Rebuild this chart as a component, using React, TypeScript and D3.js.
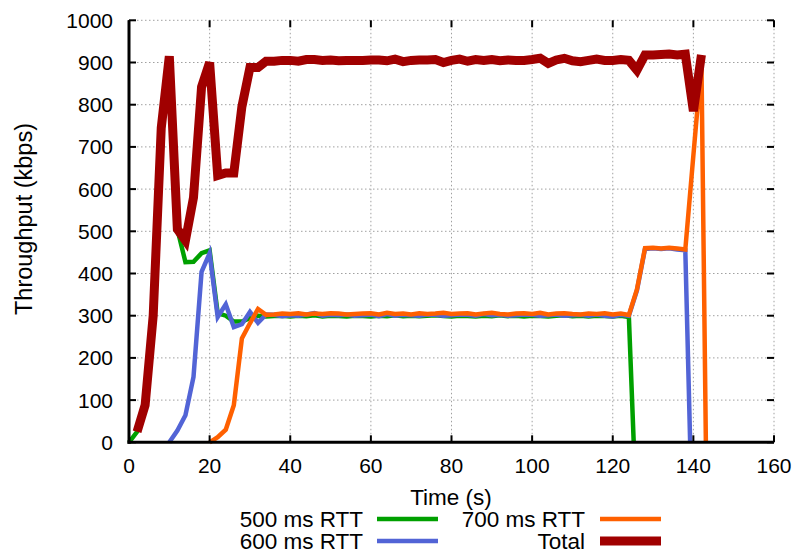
import React from "react";
import * as d3 from "d3";

// Time (s) / throughput (kbps) pairs
const rtt500: [number, number][] = [
  [0, 0], [2, 25], [4, 90], [6, 300], [8, 745], [10, 915], [12, 505], [14, 427], [16, 428], [18, 448], [20, 455],
  [22, 306], [24, 300], [26, 286], [28, 286], [30, 294], [32, 300],
  [34, 298], [36, 299], [38, 300], [40, 298], [42, 300], [44, 299], [46, 301], [48, 298], [50, 300], [52, 299],
  [54, 298], [56, 300], [58, 299], [60, 298], [62, 300], [64, 299], [66, 301], [68, 299], [70, 300], [72, 299],
  [74, 300], [76, 301], [78, 299], [80, 298], [82, 300], [84, 299], [86, 298], [88, 300], [90, 299], [92, 301],
  [94, 299], [96, 300], [98, 298], [100, 300], [102, 299], [104, 298], [106, 300], [108, 301], [110, 299], [112, 300],
  [114, 298], [116, 300], [118, 299], [120, 298], [122, 300], [124, 297], [125.2, 0],
];

const rtt600: [number, number][] = [
  [10, 0], [12, 28], [14, 64], [16, 155], [18, 404], [20, 448],
  [22, 297], [24, 327], [26, 273], [28, 280], [30, 309], [32, 283],
  [34, 303], [36, 302], [38, 299], [40, 301], [42, 300], [44, 303], [46, 306], [48, 300], [50, 302], [52, 301],
  [54, 303], [56, 300], [58, 301], [60, 303], [62, 299], [64, 304], [66, 300], [68, 302], [70, 301], [72, 300],
  [74, 303], [76, 302], [78, 300], [80, 301], [82, 303], [84, 302], [86, 300], [88, 304], [90, 301], [92, 302],
  [94, 300], [96, 301], [98, 303], [100, 302], [102, 300], [104, 301], [106, 303], [108, 300], [110, 301], [112, 302],
  [114, 300], [116, 303], [118, 300], [120, 298], [122, 302], [124, 300],
  [126, 360], [128, 458], [130, 460], [132, 458], [134, 460], [136, 457], [138, 455], [139.2, 0],
];

const rtt700: [number, number][] = [
  [20, 0], [22, 12], [24, 30], [26, 88], [28, 246], [30, 282], [32, 316],
  [34, 302], [36, 303], [38, 305], [40, 304], [42, 306], [44, 303], [46, 305], [48, 304], [50, 306], [52, 305],
  [54, 303], [56, 304], [58, 305], [60, 306], [62, 303], [64, 307], [66, 304], [68, 305], [70, 303], [72, 306],
  [74, 304], [76, 305], [78, 307], [80, 304], [82, 305], [84, 306], [86, 303], [88, 305], [90, 307], [92, 304],
  [94, 303], [96, 305], [98, 306], [100, 304], [102, 307], [104, 303], [106, 305], [108, 306], [110, 304], [112, 303],
  [114, 305], [116, 304], [118, 306], [120, 303], [122, 305], [124, 302],
  [126, 362], [128, 460], [130, 461], [132, 459], [134, 461], [136, 459], [138, 457], [140, 680], [142, 900], [143.1, 0],
];

const total: [number, number][] = [
  [2, 25], [4, 88], [6, 300], [8, 745], [10, 915], [12, 505], [14, 478], [16, 580], [18, 842], [20, 900],
  [22, 632], [24, 638], [26, 638], [28, 795], [30, 888], [32, 888],
  [34, 903], [36, 903], [38, 905], [40, 905], [42, 903], [44, 907], [46, 907], [48, 905], [50, 906], [52, 904],
  [54, 905], [56, 905], [58, 905], [60, 906], [62, 906], [64, 904], [66, 908], [68, 902], [70, 905], [72, 906],
  [74, 906], [76, 907], [78, 900], [80, 905], [82, 908], [84, 903], [86, 907], [88, 905], [90, 907], [92, 904],
  [94, 906], [96, 905], [98, 905], [100, 907], [102, 910], [104, 898], [106, 906], [108, 910], [110, 904], [112, 902],
  [114, 905], [116, 908], [118, 905], [120, 905], [122, 907], [124, 905],
  [126, 882], [128, 918], [130, 918], [132, 919], [134, 920], [136, 918], [138, 920], [140, 785], [142, 918],
];

const xTicks = [0, 20, 40, 60, 80, 100, 120, 140, 160];
const yTicks = [0, 100, 200, 300, 400, 500, 600, 700, 800, 900, 1000];

const seriesNames = ["500 ms RTT", "600 ms RTT", "700 ms RTT", "Total"];
const seriesColors = ["#00a000", "#5264d6", "#ff6000", "#a00000"];

const FONT = "'Liberation Sans', Arial, Helvetica, sans-serif";

export default function App() {
  const x = d3.scaleLinear().domain([0, 160]).range([129, 774]);
  const y = d3.scaleLinear().domain([0, 1000]).range([442.3, 20.3]);
  const line = d3
    .line<[number, number]>()
    .x((d) => x(d[0]))
    .y((d) => y(d[1]));

  const data = [rtt500, rtt600, rtt700, total];
  const widths = [4.5, 4.5, 4.5, 9];

  const legend = [
    { name: seriesNames[0], color: seriesColors[0], w: widths[0], tx: 363, lx: 377, ly: 519 },
    { name: seriesNames[1], color: seriesColors[1], w: widths[1], tx: 363, lx: 377, ly: 541 },
    { name: seriesNames[2], color: seriesColors[2], w: widths[2], tx: 585, lx: 600, ly: 519 },
    { name: seriesNames[3], color: seriesColors[3], w: widths[3], tx: 585, lx: 600, ly: 541 },
  ];

  return (
    <svg
      width={798}
      height={556}
      style={{ position: "absolute", left: 0, top: 0, background: "#fff" }}
      fontFamily={FONT}
    >
      <rect x={0} y={0} width={798} height={556} fill="#fff" />
      {/* grid */}
      {xTicks
        .filter((t) => t > 0)
        .map((t) => (
          <line
            key={"gx" + t}
            x1={x(t)}
            x2={x(t)}
            y1={y(0)}
            y2={y(1000)}
            stroke="#a0a0a0"
            strokeWidth={1}
            strokeDasharray="1.5,2.5"
          />
        ))}
      {yTicks
        .filter((t) => t > 0)
        .map((t) => (
          <line
            key={"gy" + t}
            x1={x(0)}
            x2={x(160)}
            y1={y(t)}
            y2={y(t)}
            stroke="#a0a0a0"
            strokeWidth={1}
            strokeDasharray="1.5,2.5"
          />
        ))}
      {/* series */}
      {data.map((d, i) => (
        <path
          key={"s" + i}
          d={line(d) || ""}
          fill="none"
          stroke={seriesColors[i]}
          strokeWidth={widths[i]}
          strokeLinejoin="miter"
        />
      ))}
      {/* axes */}
      <line x1={x(0)} x2={x(0)} y1={y(1000)} y2={y(0) + 1.5} stroke="#000" strokeWidth={3} />
      <line x1={x(0) - 1.5} x2={x(160)} y1={y(0)} y2={y(0)} stroke="#000" strokeWidth={3} />
      {yTicks.map((t) => (
        <g key={"yt" + t}>
          <line x1={x(0)} x2={x(0) + 7} y1={y(t)} y2={y(t)} stroke="#000" strokeWidth={2} />
          <line x1={x(160)} x2={x(160) - 7} y1={y(t)} y2={y(t)} stroke="#000" strokeWidth={2} />
          <text x={113} y={y(t)} dy="0.36em" textAnchor="end" fontSize={21} fill="#000">
            {t}
          </text>
        </g>
      ))}
      {xTicks.map((t) => (
        <g key={"xt" + t}>
          <line x1={x(t)} x2={x(t)} y1={y(0)} y2={y(0) - 7} stroke="#000" strokeWidth={2} />
          <line x1={x(t)} x2={x(t)} y1={y(1000)} y2={y(1000) + 7} stroke="#000" strokeWidth={2} />
          <text x={x(t)} y={473} textAnchor="middle" fontSize={21} fill="#000">
            {t}
          </text>
        </g>
      ))}
      <text x={451} y={505} textAnchor="middle" fontSize={22.5} fill="#000">
        Time (s)
      </text>
      <text
        transform={`translate(32, 219) rotate(-90)`}
        textAnchor="middle"
        fontSize={23.5}
        fill="#000"
      >
        Throughput (kbps)
      </text>
      {/* legend */}
      {legend.map((l) => (
        <g key={l.name}>
          <text x={l.tx} y={l.ly + 8} textAnchor="end" fontSize={22.5} fill="#000">
            {l.name}
          </text>
          <line x1={l.lx} x2={l.lx + 61} y1={l.ly} y2={l.ly} stroke={l.color} strokeWidth={l.w} />
        </g>
      ))}
    </svg>
  );
}
